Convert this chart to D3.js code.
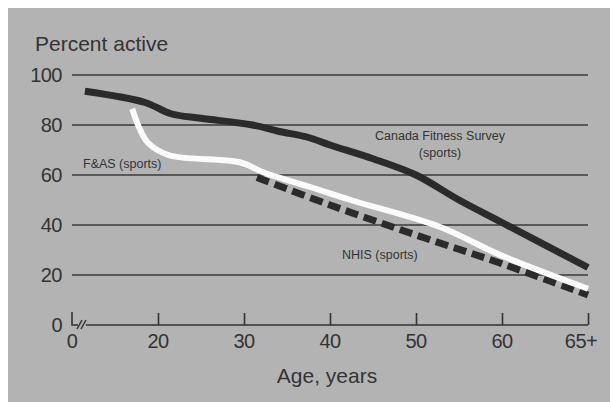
<!DOCTYPE html>
<html><head><meta charset="utf-8">
<script src="https://cdn.jsdelivr.net/npm/d3@7"></script>
<style>
html,body{margin:0;padding:0;background:#fff;}
svg{display:block;}
text{font-family:"Liberation Sans",Arial,Helvetica,sans-serif;fill:#333;}
</style></head>
<body>
<svg id="chart" width="610" height="402"></svg>
<script>
// Data (ages; "65+" plotted at the 70 position)
const xTickValues = [10, 20, 30, 40, 50, 60, 70];
const xTickLabels = ["0", "20", "30", "40", "50", "60", "65+"];
const yTickValues = [0, 20, 40, 60, 80, 100];

const canadaAges   = [11.5, 18.5, 21.5, 25, 31, 34, 37.5, 40, 45, 50, 55, 60, 70];
const canadaValues = [93.5, 89, 84.5, 82.7, 80, 77.5, 75, 72, 66.5, 60, 50, 41, 23];

const fasAges   = [17, 17.8, 18.8, 21.2, 29.6, 32.3, 37.7, 42.4, 52.8, 59.8, 70];
const fasValues = [86.5, 79, 73, 68, 65, 61, 55.2, 50, 39.2, 28, 14.5];

const nhisAges   = [31.5, 40, 50, 60, 70];
const nhisValues = [59, 48, 36, 24.5, 12];

const svg = d3.select("#chart");
// gray background panel
svg.append("rect").attr("x", 8).attr("y", 8).attr("width", 602).attr("height", 394).attr("fill", "#b3b3b3");

const x = d3.scaleLinear().domain([10, 70]).range([72, 588]);
const y = d3.scaleLinear().domain([0, 100]).range([325, 75]);

// gridlines (excluding 0)
svg.append("g").selectAll("line").data(yTickValues.filter(d => d > 0)).join("line")
  .attr("x1", x(10)).attr("x2", x(70))
  .attr("y1", d => y(d)).attr("y2", d => y(d))
  .attr("stroke", "#3a3a3a").attr("stroke-width", 1.6);

// y tick labels
svg.append("g").selectAll("text").data(yTickValues).join("text")
  .attr("x", 62).attr("y", d => y(d)).attr("dy", "0.36em")
  .attr("text-anchor", "end").attr("font-size", 20)
  .attr("letter-spacing", -0.5)
  .text(d => d);

// x axis with break
const axisG = svg.append("g").attr("transform", `translate(0,${y(0)})`);
const xAxis = d3.axisBottom(x).tickValues(xTickValues.slice(1))
  .tickSize(-12).tickFormat("");
axisG.call(xAxis);
axisG.select(".domain").remove();
axisG.selectAll(".tick line").attr("stroke", "#333").attr("stroke-width", 1.6);
axisG.append("line").attr("x1", x(10) + 14).attr("x2", x(70)).attr("y1", 0).attr("y2", 0)
  .attr("stroke", "#333").attr("stroke-width", 1.6);
// the "L" at 0 and the break marks
axisG.append("path").attr("d", `M${x(10)},-13 V0 H${x(10) + 6}`)
  .attr("fill", "none").attr("stroke", "#333").attr("stroke-width", 1.6);
axisG.append("path").attr("d", `M${x(10) + 5},4 L${x(10) + 10},-5 M${x(10) + 9},4 L${x(10) + 14},-5`)
  .attr("fill", "none").attr("stroke", "#333").attr("stroke-width", 1.5);

// x tick labels
svg.append("g").selectAll("text").data(xTickValues).join("text")
  .attr("x", (d, i) => x(d) + (i === xTickValues.length - 1 ? -7 : 0))
  .attr("y", 348).attr("text-anchor", "middle").attr("font-size", 20)
  .attr("letter-spacing", -0.5)
  .text((d, i) => xTickLabels[i]);

// titles
svg.append("text").attr("x", 35).attr("y", 51).attr("font-size", 21).text("Percent active");
svg.append("text").attr("x", 327).attr("y", 383).attr("text-anchor", "middle").attr("font-size", 21).text("Age, years");

// lines
const line = d3.line().x(d => x(d[0])).y(d => y(d[1])).curve(d3.curveCatmullRom.alpha(0.5));

svg.append("path").datum(d3.zip(nhisAges, nhisValues))
  .attr("d", line).attr("fill", "none").attr("stroke", "#2b2b2b")
  .attr("stroke-width", 7).attr("stroke-dasharray", "13,6");

svg.append("path").datum(d3.zip(fasAges, fasValues))
  .attr("d", line).attr("fill", "none").attr("stroke", "#fbfbfb")
  .attr("stroke-width", 6).attr("stroke-linejoin", "round");

svg.append("path").datum(d3.zip(canadaAges, canadaValues))
  .attr("d", line).attr("fill", "none").attr("stroke", "#2b2b2b")
  .attr("stroke-width", 7).attr("stroke-linejoin", "round");

// series labels
const small = 12.5;
svg.append("text").attr("x", 440).attr("y", 140).attr("text-anchor", "middle").attr("font-size", small).text("Canada Fitness Survey");
svg.append("text").attr("x", 440).attr("y", 157).attr("text-anchor", "middle").attr("font-size", small).text("(sports)");
svg.append("text").attr("x", 83).attr("y", 168).attr("font-size", small).text("F&AS (sports)");
svg.append("text").attr("x", 342).attr("y", 259).attr("font-size", small).text("NHIS (sports)");
</script>
</body></html>
